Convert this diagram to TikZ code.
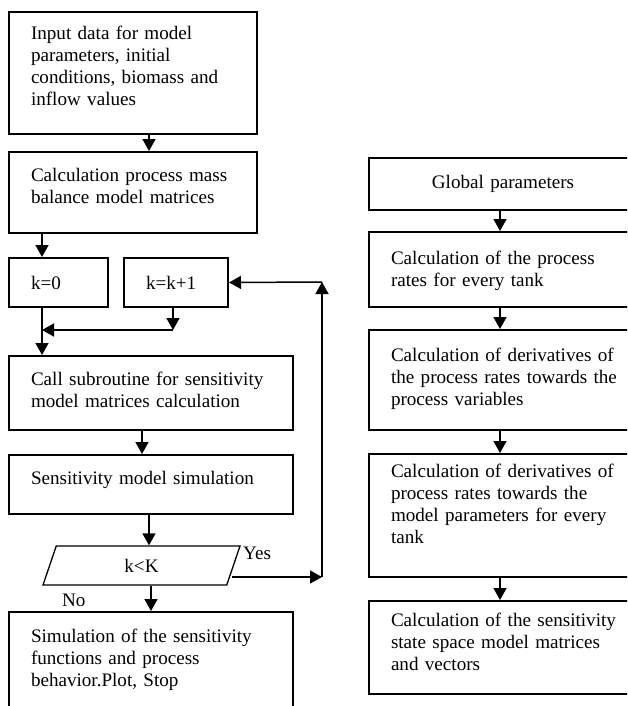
\documentclass[tikz,border=0pt]{standalone}
\usepackage{fontspec}
\setmainfont{Liberation Serif}
\usetikzlibrary{arrows.meta,shapes.geometric}

\begin{document}
\begin{tikzpicture}[x=1pt,y=-1pt,
    font=\fontsize{19.1}{22}\selectfont,
    box/.style={draw, line width=2pt, rectangle, anchor=north west,
        align=left, inner xsep=22pt, inner ysep=0pt},
    check/.style={draw, line width=1.3pt, trapezium, trapezium left angle=45,
        trapezium right angle=135, trapezium stretches body,
        minimum width=197pt, minimum height=39pt, inner sep=0pt},
    conn/.style={line width=1.5pt, -{Triangle[length=12pt,width=13pt]}}]

    \useasboundingbox (0,0) rectangle (627,706);
    \clip (0,0) rectangle (627,706);

    % Left column: main program
    \node[box, text width=204pt, text height=28pt, text depth=94pt] (input) at (8,11)
        {Input data for model\\parameters, initial\\conditions, biomass and\\inflow values};
    \node[box, text width=204pt, text height=29pt, text depth=52pt] (massbal) at (8,151)
        {Calculation process mass\\balance model matrices};
    \node[box, text width=55pt, text height=31pt, text depth=18pt] (kzero) at (8,257) {k=0};
    \node[box, text width=60pt, text height=31pt, text depth=18pt] (kplus) at (123,257) {k=k+1};
    \node[box, text width=240pt, text height=29pt, text depth=45pt] (call) at (8,355)
        {Call subroutine for sensitivity\\model matrices calculation};
    \node[box, text width=240pt, text height=29pt, text depth=30pt] (sens) at (8,454)
        {Sensitivity model simulation};
    \node[check] (check) at (141.5,565.5) {k<K};
    \node[box, text width=240pt, text height=30pt, text depth=79pt] (final) at (8,611)
        {Simulation of the sensitivity\\functions and process\\behavior.Plot, Stop};

    \node[anchor=base west, inner sep=0pt] (yes) at (243,559) {Yes};
    \node[anchor=base west, inner sep=0pt] (no) at (62,606) {No};

    % Right column: subroutine (boxes run past the right edge)
    \node[box, align=center, text width=224pt, text height=30pt, text depth=22pt] (global) at (368,157)
        {Global parameters};
    \node[box, text width=250pt, text height=32pt, text depth=43pt] (rates) at (368,231)
        {Calculation of the process\\rates for every tank};
    \node[box, text width=250pt, text height=31pt, text depth=69pt] (derivvar) at (368,329)
        {Calculation of derivatives of\\the process rates towards the\\process variables};
    \node[box, text width=250pt, text height=23pt, text depth=100pt] (derivpar) at (368,453)
        {Calculation of derivatives of\\process rates towards the\\model parameters for every\\tank};
    \node[box, text width=250pt, text height=25pt, text depth=68pt] (sensmat) at (368,600)
        {Calculation of the sensitivity\\state space model matrices\\and vectors};

    % Bends of the connectors
    \coordinate (busL) at (42,330);
    \coordinate (busR) at (173,330);
    \coordinate (loopB) at (322,577);
    \coordinate (loopT) at (322,282);
    \coordinate (rcol) at (500,0);

    % Left column connectors
    \draw[conn] ([xshift=16pt]input.south) -- ([xshift=16pt]massbal.north);
    \draw[conn] (massbal.south -| busL) -- (kzero.north -| busL);
    \draw[conn] (kzero.south -| busL) -- (call.north -| busL);
    \draw[conn] (kplus.south -| busR) -- (busR);
    \draw[conn] (busR) -- (busL);
    \draw[conn] ([xshift=-9pt]call.south) -- ([xshift=-9pt]sens.north);
    \draw[conn] ([xshift=-2pt]sens.south) -- ([xshift=-2pt]sens.south |- check.north);
    \draw[conn] (check.south -| final.north) -- (final.north);

    % Loop back to k=k+1
    \draw[conn] ([xshift=5pt]check.bottom right corner |- loopB) -- (loopB);
    \draw[conn] (loopB) -- (loopT);
    \draw[conn] (loopT) -- (kplus.east);

    % Right column connectors
    \draw[conn] (global.south -| rcol) -- (rates.north -| rcol);
    \draw[conn] (rates.south -| rcol) -- (derivvar.north -| rcol);
    \draw[conn] (derivvar.south -| rcol) -- (derivpar.north -| rcol);
    \draw[conn] (derivpar.south -| rcol) -- (sensmat.north -| rcol);

\end{tikzpicture}
\end{document}
